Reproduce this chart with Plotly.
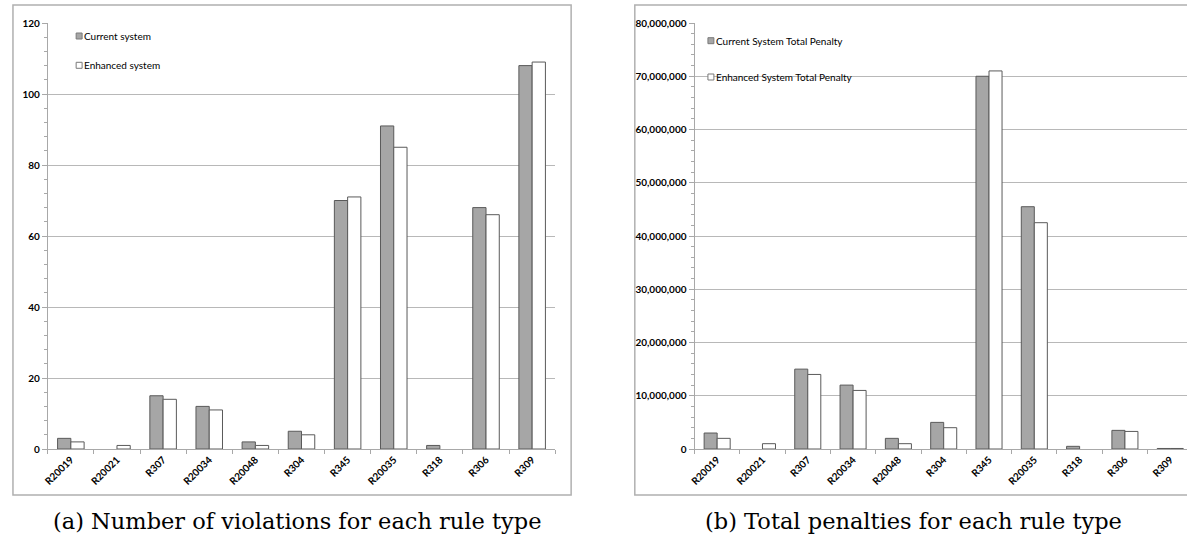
import plotly.graph_objects as go

rules = ["R20019", "R20021", "R307", "R20034", "R20048", "R304", "R345", "R20035", "R318", "R306", "R309"]
violations_current = [3, 0, 15, 12, 2, 5, 70, 91, 1, 68, 108]
violations_enhanced = [2, 1, 14, 11, 1, 4, 71, 85, 0, 66, 109]
penalty_current = [3000000, 0, 15000000, 12000000, 2000000, 5000000, 70000000, 45500000, 500000, 3500000, 100000]
penalty_enhanced = [2000000, 1000000, 14000000, 11000000, 1000000, 4000000, 71000000, 42500000, 0, 3300000, 100000]

legend_a = ["Current system", "Enhanced system"]
legend_b = ["Current System Total Penalty", "Enhanced System Total Penalty"]

W, H = 1187, 540
MT, MB = 23, 91
PH = H - MT - MB
GREY = "#a6a6a6"
EDGE = "#5a5a5a"
TICKFONT = dict(family="Lato", size=10, color="black", weight="bold")


def py(y_px):
    """convert pixel row to paper fraction"""
    return (H - MB - y_px) / PH


def nz(vals):
    return [v if v else None for v in vals]


fig = go.Figure()


def bar(name, x, y, color, xa, ya):
    return go.Bar(name=name, x=x, y=nz(y), xaxis=xa, yaxis=ya, showlegend=False,
                  marker=dict(color=color, line=dict(color=EDGE, width=1)))


fig.add_trace(bar(legend_a[0], rules, violations_current, GREY, "x", "y"))
fig.add_trace(bar(legend_a[1], rules, violations_enhanced, "white", "x", "y"))
fig.add_trace(bar(legend_b[0], rules, penalty_current, GREY, "x2", "y2"))
fig.add_trace(bar(legend_b[1], rules, penalty_enhanced, "white", "x2", "y2"))

xcommon = dict(type="category", tickangle=-45, tickfont=TICKFONT, showline=True, linecolor="#a8a8a8",
               linewidth=1, ticks="outside", ticklen=4, tickcolor="#a8a8a8", tickson="boundaries",
               showgrid=False, zeroline=False)
ycommon = dict(showline=True, linecolor="#a8a8a8", linewidth=1, ticks="outside", ticklen=5,
               tickcolor="#a8a8a8", showgrid=True, gridcolor="#b8b8b8", gridwidth=1, zeroline=False,
               tickfont=TICKFONT)

shapes = [
    dict(type="rect", xref="paper", yref="paper", x0=7 / W, x1=568 / W,
         y0=py(495), y1=py(5), line=dict(color="#b0b0b0", width=1.5), layer="below"),
    dict(type="rect", xref="paper", yref="paper", x0=632 / W, x1=1200 / W,
         y0=py(495), y1=py(5), line=dict(color="#b0b0b0", width=1.5), layer="below"),
]
annotations = [
    dict(text="(a) Number of violations for each rule type", xref="paper", yref="paper",
         x=292 / W, y=py(521), xanchor="center", yanchor="middle", showarrow=False,
         font=dict(family="DejaVu Serif", size=22.5, color="black")),
    dict(text="(b) Total penalties for each rule type", xref="paper", yref="paper",
         x=912 / W, y=py(521), xanchor="center", yanchor="middle", showarrow=False,
         font=dict(family="DejaVu Serif", size=22.5, color="black")),
]

# legend keys (small squares) and labels, as in the original spreadsheet charts
legend_specs = [
    (legend_a, 70.5, [36, 65.3]),
    (legend_b, 705.5, [40.7, 77]),
]
for names, x_left, ys in legend_specs:
    for name, yc, fill in zip(names, ys, [GREY, "white"]):
        shapes.append(dict(type="rect", xref="paper", yref="paper",
                           x0=x_left / W, x1=(x_left + 6) / W, y0=py(yc + 3), y1=py(yc - 3),
                           fillcolor=fill, line=dict(color="#7a7a7a", width=1)))
        annotations.append(dict(text=name, xref="paper", yref="paper", x=(x_left + 6) / W, y=py(yc),
                                xanchor="left", yanchor="middle", showarrow=False,
                                font=dict(family="Lato", size=10, color="black")))

fig.update_layout(
    width=W, height=H,
    paper_bgcolor="white", plot_bgcolor="white",
    margin=dict(l=0, r=0, t=MT, b=MB),
    barmode="group", bargap=0.425, bargroupgap=0,
    xaxis=dict(domain=[42 / W, 552 / W], anchor="y", range=[-0.5, 10.5], **xcommon),
    yaxis=dict(domain=[0, 1], anchor="x", range=[0, 120], dtick=20, tickformat="d",
               minor=dict(dtick=4, ticks="outside", ticklen=3, tickcolor="#a8a8a8", showgrid=False),
               **ycommon),
    xaxis2=dict(domain=[692 / W, 1.0], anchor="y2", range=[-0.5, 10.37], **xcommon),
    yaxis2=dict(domain=[0, 1], anchor="x2", range=[0, 80000000], dtick=10000000, tickformat=",d",
                minor=dict(dtick=2000000, ticks="outside", ticklen=3, tickcolor="#a8a8a8", showgrid=False),
                **ycommon),
    showlegend=False,
    shapes=shapes,
    annotations=annotations,
)

fig.write_html("out.html", config={"displayModeBar": False},
               post_script="document.body.style.margin='0';")
